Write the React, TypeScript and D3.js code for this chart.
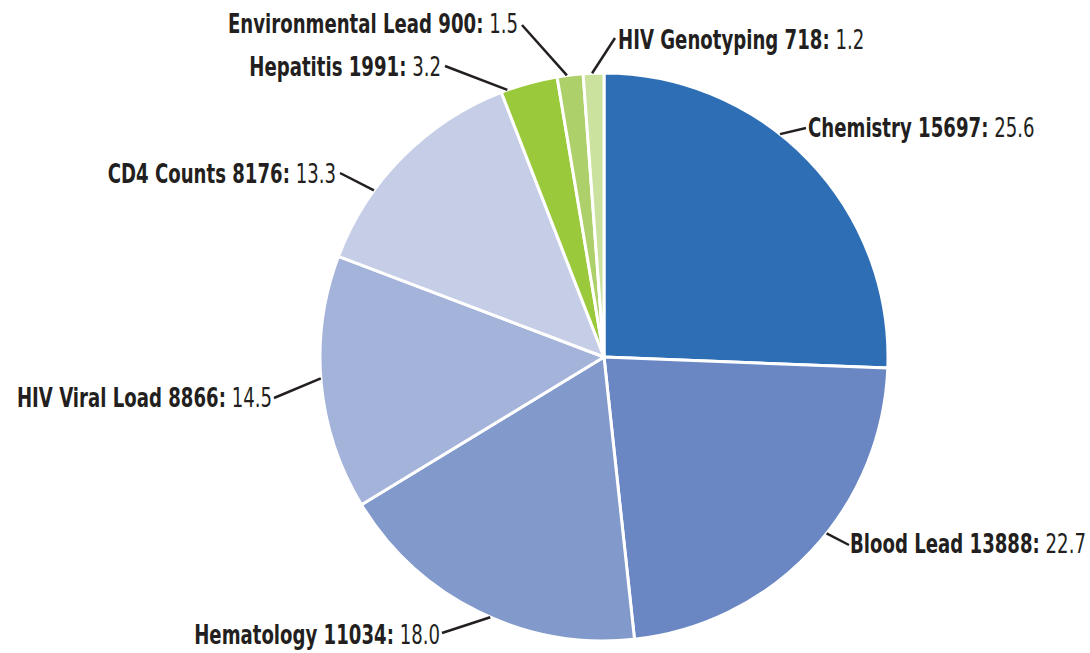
import React from "react";
import * as d3 from "d3";

const categories = [
  "Chemistry",
  "Blood Lead",
  "Hematology",
  "HIV Viral Load",
  "CD4 Counts",
  "Hepatitis",
  "Environmental Lead",
  "HIV Genotyping",
];
const counts = [15697, 13888, 11034, 8866, 8176, 1991, 900, 718];
const percents = ["25.6", "22.7", "18.0", "14.5", "13.3", "3.2", "1.5", "1.2"];
const colors = [
  "#2e6eb5",
  "#6a87c3",
  "#8199cb",
  "#a4b3da",
  "#c6cee7",
  "#9bc93c",
  "#aed06a",
  "#cae29d",
];

// label layout: leader angle on the rim (deg), leader outer end, text anchor/position
const labelLayout = [
  { rimDeg: 38.3, end: [806, 128], anchor: "start", tx: 808, ty: 137 },
  { rimDeg: 128.4, end: [849, 545], anchor: "start", tx: 850, ty: 553 },
  { rimDeg: 203.6, end: [442, 633], anchor: "end", tx: 440, ty: 644 },
  { rimDeg: 265.7, end: [274, 398], anchor: "end", tx: 272, ty: 407 },
  { rimDeg: 305.9, end: [340, 173], anchor: "end", tx: 336, ty: 183 },
  { rimDeg: 340.1, end: [445, 66], anchor: "end", tx: 441, ty: 76 },
  { rimDeg: 352.5, end: [522, 25], anchor: "end", tx: 518, ty: 33 },
  { rimDeg: 357.6, end: [615, 38], anchor: "start", tx: 618, ty: 49 },
];

const W = 1090;
const H = 653;
const cx = 604;
const cy = 357;
const R = 284;
const FONT = "'DejaVu Sans Condensed', 'DejaVu Sans', sans-serif";
const INK = "#231f20";
const SX = 0.775;

export default function App() {
  const data = categories.map((c, i) => ({ name: c, value: counts[i], pct: percents[i], color: colors[i] }));
  const pie = d3
    .pie<any>()
    .sort(null)
    .value((d) => d.value)
    .startAngle(0)
    .endAngle(2 * Math.PI);
  const arcs = pie(data);
  const arcGen = d3.arc<any>().innerRadius(0).outerRadius(R);

  return (
    <div style={{ position: "fixed", left: 0, top: 0, width: W, height: H, background: "#fff" }}>
      <svg width={W} height={H} style={{ display: "block" }}>
        <g transform={`translate(${cx},${cy})`}>
          {arcs.map((a, i) => (
            <path key={i} d={arcGen(a) as string} fill={a.data.color} stroke="#fff" strokeWidth={3} strokeLinejoin="round" />
          ))}
        </g>
        {arcs.map((a, i) => {
          const L = labelLayout[i];
          const ang = (L.rimDeg * Math.PI) / 180;
          const x0 = cx + R * Math.sin(ang);
          const y0 = cy - R * Math.cos(ang);
          return (
            <g key={"l" + i}>
              <line x1={x0} y1={y0} x2={L.end[0]} y2={L.end[1]} stroke={INK} strokeWidth={2.5} />
              <text
                transform={`translate(${L.tx},${L.ty}) scale(${SX},1)`}
                textAnchor={L.anchor as any}
                fontFamily={FONT}
                fontSize={26}
                fill={INK}
              >
                <tspan fontWeight="bold">{`${a.data.name} ${a.data.value}:`}</tspan>
                <tspan>{` ${a.data.pct}`}</tspan>
              </text>
            </g>
          );
        })}
      </svg>
    </div>
  );
}
